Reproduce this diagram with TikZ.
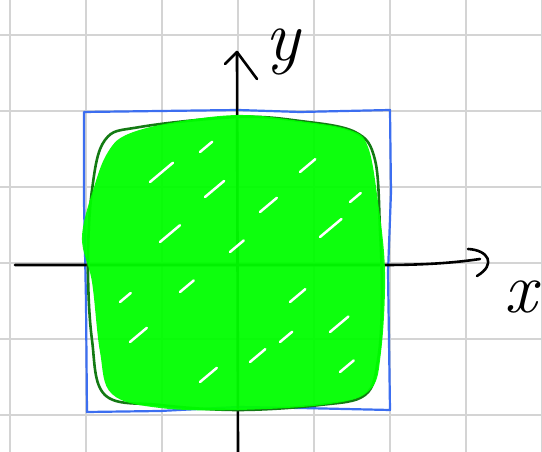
\documentclass[tikz,border=0pt]{standalone}
\usepackage{fontspec}
\usetikzlibrary{calc}
\definecolor{gridgray}{HTML}{D4D4D4}\definecolor{penblue}{HTML}{3C6EF0}
\definecolor{pengreen}{HTML}{00FF00}\definecolor{darkpen}{HTML}{137A13}
\tikzset{grid line/.style={gridgray,line width=1.8pt},axis/.style={line width=2.6pt,line cap=round,line join=round},
box/.style={penblue,line width=2.2pt,line join=round},blob/.style={darkpen,line width=2.6pt},
handlabel/.style={font=\fontsize{72}{72}\selectfont\itshape,inner sep=0pt}}

\begin{document}
\begin{tikzpicture}[x=1pt,y=1pt]
\useasboundingbox (0,0) rectangle (542,452);
% squared paper
\foreach \i in {10,86,...,542} \draw[grid line] (\i,0)--(\i,452);
\foreach \j in {37,113,...,452} \draw[grid line] (0,\j)--(542,\j);
% the square region
\draw[box] (84,340)--(160,341)--(238,342)--(300,340)--(390,342)--(391,260)--(388,180)--(390,42)--(300,44)--(238,45)--(160,41)--(87,40)--(86,150)--(84,250)--cycle;
% axes
\coordinate (yb) at (238,0);\coordinate (yt) at (237,400);\coordinate (xl) at (15,187);\coordinate (xm) at (385,187);\coordinate (xr) at (480,193);
\draw[axis] (yb)--(yt);\draw[axis] (yt)--++(-12,-12);\draw[axis] (yt)--++(20,-27);
\draw[axis] (xl)--(xm)..controls (430,187) and (460,190)..(xr);
\draw[axis] (468,203)..controls (488,202) and (497,188)..(477,176);
% coloured in
\draw[blob] plot[smooth cycle,tension=.6] coordinates{(238,335)(300,331)(355,320)(375,292)(380,222)(382,152)(378,92)(365,57)(320,47)(238,42)(160,47)(105,57)(92,112)(88,187)(92,262)(105,312)(140,325)};
\fill[pengreen,fill opacity=.95] plot[smooth cycle,tension=.6] coordinates{(238,337)(300,331)(350,322)(368,305)(378,250)(385,180)(381,100)(370,62)(330,48)(238,42)(160,44)(112,58)(100,100)(92,170)(82,215)(95,268)(108,300)(126,317)(170,329)};
\foreach \a/\b/\l in {150/270/30,205/255/25,260/240/22,320/215/28,290/150/20,180/160/18,130/110/22,250/90/20,330/120/24,200/300/16,300/280/20,350/250/14,230/200/18,160/210/26,280/110/16,340/80/18,200/70/22,120/150/14}
  \draw[white,line width=2.5pt,line cap=round] (\a,\b)--++(40:\l);
% labels
\node[handlabel] (ylab) at (283,400) {y};
\node[handlabel] (xlab) at (521,155) {x};
\end{tikzpicture}
\end{document}
